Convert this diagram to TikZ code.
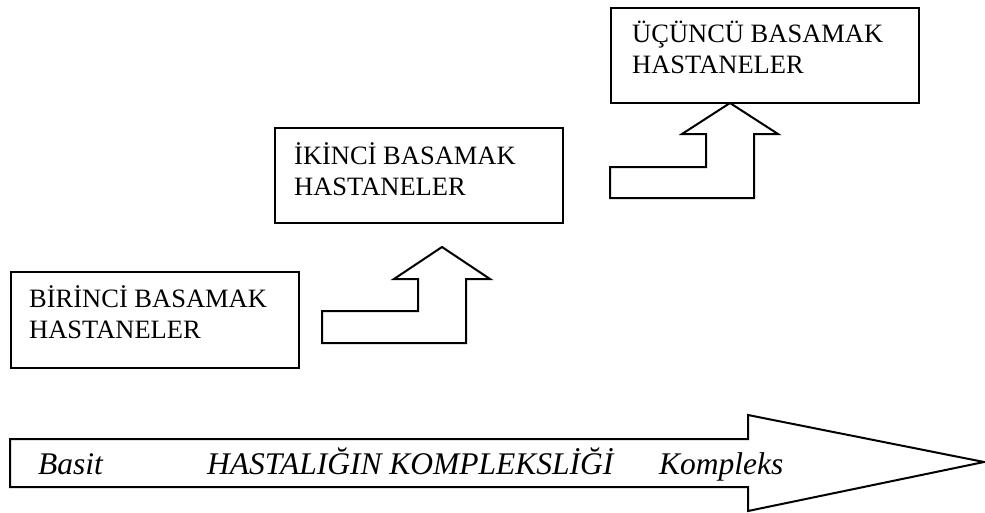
\documentclass[tikz,border=0pt]{standalone}
\usepackage{fontspec}
\setmainfont{Liberation Serif}
\begin{document}
\begin{tikzpicture}[x=1pt,y=-1pt,
  box/.style={draw=black, line width=2pt, anchor=north west, inner sep=0pt},
  boxtext/.style={anchor=north west, align=left, inner sep=0pt,
    font=\fontsize{26.5}{31}\selectfont},
  outline/.style={draw=black, line width=2pt, fill=white, line join=miter},
  label/.style={anchor=base west, inner sep=0pt, font=\itshape\fontsize{31.5}{36}\selectfont}]
\useasboundingbox (0,0) rectangle (985,512);
% boxes
\node[box, minimum width=288pt, minimum height=96pt] (b1) at (10,271) {};
\node[box, minimum width=288pt, minimum height=95pt] (b2) at (274,127) {};
\node[box, minimum width=308pt, minimum height=95pt] (b3) at (610,7) {};
\node[boxtext] (t1) at ([xshift=19pt,yshift=-12pt]b1.north west) {\rule{0pt}{24pt}BİRİNCİ BASAMAK\\HASTANELER};
\node[boxtext] (t2) at ([xshift=20pt,yshift=-13pt]b2.north west) {\rule{0pt}{24pt}İKİNCİ BASAMAK\\HASTANELER};
\node[boxtext] (t3) at ([xshift=22pt,yshift=-11pt]b3.north west) {\rule{0pt}{24pt}ÜÇÜNCÜ BASAMAK\\HASTANELER};
% bent arrows
\draw[outline] (322,311) -- (418,311) -- (418,279) -- (394,279) -- (442,247) -- (490,279) -- (466,279) -- (466,343) -- (322,343) -- cycle;
\draw[outline] (610,167) -- (706,167) -- (706,134) -- (682,134) -- (730,103) -- (778,134) -- (754,134) -- (754,198) -- (610,198) -- cycle;
% big arrow
\draw[outline] (10,439) -- (748,439) -- (748,415) -- (984,462) -- (748,511) -- (748,487) -- (10,487) -- cycle;
\node[label] (basit) at (38,474.5) {Basit};
\node[label] (hk) at (207,474.5) {HASTALIĞIN KOMPLEKSLİĞİ};
\node[label] (komp) at (659,474.5) {Kompleks};
\end{tikzpicture}
\end{document}
